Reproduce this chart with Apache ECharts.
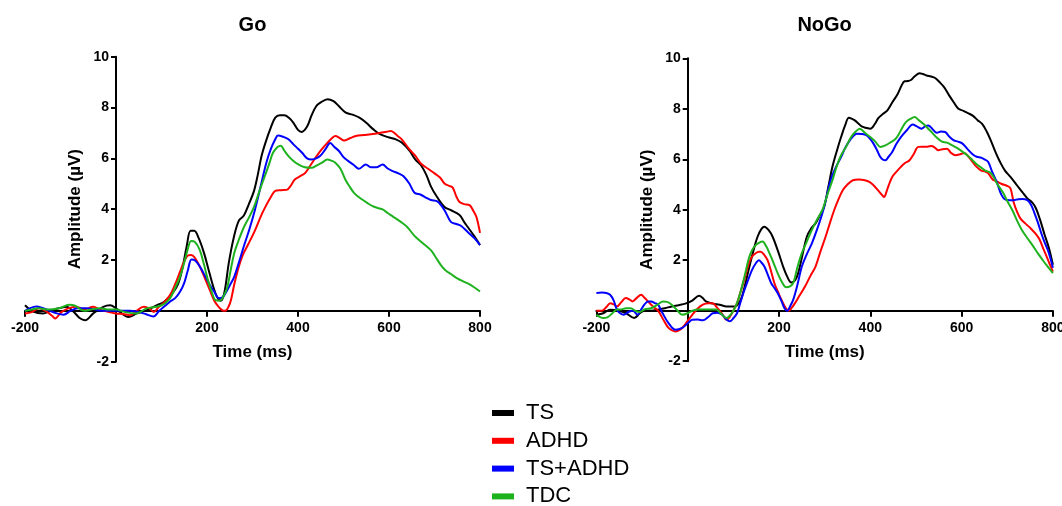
<!DOCTYPE html>
<html>
<head>
<meta charset="utf-8">
<script src="https://cdn.jsdelivr.net/npm/echarts@6/dist/echarts.min.js"></script>
<style>
html,body{margin:0;padding:0;background:#fff;}
#chart{width:1062px;height:506px;}
</style>
</head>
<body>
<div id="chart"></div>
<script>
// ---- data: [time (ms), amplitude (µV)] ----
var seriesNames = ['TS', 'ADHD', 'TS+ADHD', 'TDC'];
var panelTitles = ['Go', 'NoGo'];
var xTicks = [-200, 0, 200, 400, 600, 800];
var yTicks = [-2, 0, 2, 4, 6, 8, 10];

var goTS = [[-200,0.22],[-182,-0.03],[-160,-0.1],[-138,0.05],[-120,0.12],[-109,0.16],[-95,0.0],[-80,-0.28],[-68,-0.37],[-50,-0.1],[-28,0.16],[-13,0.22],[0,0.1],[9,-0.05],[27,-0.24],[46,-0.1],[68,0.03],[90,0.22],[105,0.35],[120,0.6],[135,1.0],[145,1.6],[155,2.5],[164,3.15],[172,3.15],[182,2.85],[193,2.3],[203,1.65],[213,1.0],[222,0.55],[230,0.4],[238,0.7],[248,1.9],[259,2.9],[270,3.55],[281,3.75],[292,4.2],[303,4.7],[311,5.3],[320,6.1],[330,6.7],[340,7.2],[350,7.6],[360,7.7],[370,7.7],[380,7.6],[390,7.4],[400,7.12],[408,7.04],[420,7.25],[430,7.7],[440,8.05],[450,8.2],[465,8.33],[478,8.25],[490,8.05],[505,7.8],[520,7.72],[535,7.6],[550,7.4],[565,7.15],[580,6.95],[600,6.82],[615,6.75],[628,6.62],[645,6.3],[658,5.95],[670,5.74],[682,5.35],[692,4.9],[705,4.5],[722,4.09],[736,3.96],[755,3.77],[765,3.5],[773,3.3],[787,2.95],[800,2.59]];
var goADHD = [[-200,-0.1],[-185,-0.05],[-170,0.1],[-155,0.0],[-140,-0.2],[-134,-0.3],[-120,-0.05],[-105,0.1],[-87,0.16],[-70,0.05],[-50,0.16],[-35,0.05],[-15,-0.05],[0,-0.1],[15,-0.12],[31,-0.17],[45,0.0],[61,0.16],[73,0.1],[83,-0.04],[94,0.15],[104,0.3],[119,0.63],[130,1.05],[141,1.55],[150,1.95],[158,2.18],[165,2.2],[173,2.1],[184,1.75],[195,1.3],[206,0.83],[216,0.4],[226,0.15],[234,0.02],[240,0.0],[247,0.15],[253,0.45],[260,1.05],[270,1.75],[280,2.25],[290,2.6],[305,3.15],[319,3.75],[330,4.15],[341,4.5],[350,4.72],[362,4.75],[375,4.76],[385,4.95],[393,5.17],[405,5.3],[416,5.43],[430,5.8],[441,6.09],[452,6.35],[464,6.6],[475,6.8],[482,6.88],[492,6.8],[501,6.7],[515,6.8],[527,6.88],[545,6.92],[560,6.95],[579,7.0],[595,7.05],[604,7.08],[612,7.0],[619,6.88],[628,6.75],[645,6.35],[658,6.1],[670,5.8],[685,5.6],[700,5.41],[712,5.25],[722,5.01],[732,4.92],[740,4.85],[748,4.5],[755,4.28],[765,4.2],[777,4.16],[785,3.95],[792,3.7],[800,3.07]];
var goTSADHD = [[-200,0.0],[-190,0.1],[-175,0.17],[-160,0.1],[-145,0.0],[-130,-0.1],[-115,-0.15],[-100,0.0],[-85,0.1],[-65,0.1],[-45,0.05],[-30,0.0],[0,0.0],[30,0.0],[50,-0.05],[65,-0.12],[82,-0.22],[95,0.0],[108,0.2],[119,0.37],[130,0.5],[141,0.76],[150,1.1],[158,1.6],[166,2.02],[174,1.98],[184,1.75],[195,1.4],[206,1.03],[216,0.75],[226,0.5],[233,0.52],[241,0.7],[250,1.0],[260,1.35],[270,1.9],[282,2.6],[293,3.2],[305,3.95],[318,4.9],[330,5.8],[340,6.35],[350,6.75],[356,6.9],[367,6.85],[379,6.75],[390,6.55],[400,6.38],[410,6.2],[420,6.0],[430,5.96],[440,6.0],[449,6.1],[460,6.35],[471,6.6],[480,6.45],[490,6.29],[500,6.05],[510,5.9],[522,5.75],[534,5.59],[549,5.76],[560,5.65],[572,5.65],[586,5.76],[597,5.6],[608,5.5],[622,5.4],[632,5.3],[645,5.0],[656,4.65],[670,4.57],[682,4.45],[692,4.36],[707,4.3],[722,3.96],[736,3.5],[748,3.42],[758,3.35],[773,3.1],[788,2.85],[800,2.59]];
var goTDC = [[-200,0.0],[-185,0.05],[-170,0.1],[-150,0.05],[-125,0.1],[-103,0.24],[-90,0.2],[-70,0.0],[-55,0.05],[-35,0.1],[-15,0.05],[0,0.05],[20,-0.05],[45,-0.1],[67,0.1],[85,0.15],[97,0.2],[108,0.3],[119,0.5],[130,0.9],[141,1.36],[150,1.9],[158,2.45],[165,2.75],[173,2.72],[184,2.4],[193,1.85],[202,1.22],[211,0.72],[219,0.42],[228,0.4],[237,0.6],[245,0.96],[252,1.6],[260,2.28],[270,2.8],[282,3.33],[293,3.7],[304,4.12],[315,4.7],[327,5.3],[337,5.8],[345,6.22],[355,6.45],[362,6.5],[370,6.3],[379,6.09],[390,5.9],[401,5.76],[415,5.65],[430,5.63],[441,5.72],[453,5.83],[464,5.96],[475,5.9],[482,5.83],[493,5.6],[504,5.17],[513,4.9],[523,4.64],[532,4.5],[541,4.38],[552,4.25],[564,4.12],[575,4.05],[586,3.99],[597,3.85],[608,3.72],[626,3.5],[640,3.3],[656,2.95],[672,2.7],[692,2.39],[703,2.1],[714,1.8],[724,1.6],[736,1.45],[751,1.27],[762,1.17],[773,1.08],[787,0.93],[800,0.76]];

var nogoTS = [[-200,-0.16],[-185,-0.1],[-170,0.04],[-150,0.0],[-135,-0.1],[-117,-0.29],[-105,-0.1],[-95,0.0],[-80,0.0],[-65,0.04],[-50,0.1],[-35,0.17],[-20,0.22],[-5,0.28],[10,0.4],[25,0.59],[33,0.5],[40,0.37],[55,0.28],[70,0.24],[85,0.17],[104,0.17],[112,0.3],[119,0.57],[128,1.2],[137,1.88],[145,2.45],[153,2.93],[162,3.25],[168,3.33],[177,3.2],[186,2.93],[198,2.35],[209,1.75],[218,1.35],[227,1.12],[235,1.2],[242,1.49],[250,2.1],[261,2.93],[270,3.25],[280,3.46],[290,3.8],[299,4.12],[308,4.9],[317,5.7],[327,6.35],[336,6.88],[345,7.35],[353,7.64],[360,7.6],[366,7.54],[375,7.4],[381,7.3],[390,7.25],[400,7.21],[410,7.4],[418,7.64],[428,7.8],[437,7.93],[448,8.25],[460,8.59],[468,8.9],[475,9.09],[482,9.1],[489,9.14],[498,9.3],[508,9.41],[515,9.38],[523,9.32],[533,9.28],[542,9.22],[552,9.05],[562,8.85],[572,8.55],[583,8.25],[593,8.0],[604,7.92],[615,7.82],[625,7.72],[635,7.55],[645,7.4],[655,7.1],[665,6.7],[675,6.25],[684,5.9],[695,5.55],[707,5.3],[720,5.0],[733,4.7],[744,4.45],[755,4.28],[763,4.05],[772,3.6],[782,3.0],[791,2.5],[800,1.82]];
var nogoADHD = [[-200,0.0],[-188,0.0],[-178,0.15],[-170,0.3],[-162,0.25],[-155,0.17],[-145,0.35],[-136,0.5],[-128,0.45],[-121,0.37],[-112,0.5],[-102,0.63],[-94,0.5],[-87,0.37],[-75,0.15],[-65,0.0],[-52,-0.4],[-42,-0.68],[-27,-0.82],[-12,-0.68],[0,-0.4],[10,-0.16],[20,0.05],[33,0.24],[45,0.3],[55,0.3],[63,0.15],[70,0.0],[78,-0.2],[85,-0.36],[92,-0.25],[100,0.0],[108,0.3],[115,0.7],[125,1.3],[134,1.88],[141,2.15],[149,2.28],[156,2.34],[160,2.34],[168,2.2],[175,2.0],[182,1.6],[190,1.09],[200,0.65],[209,0.3],[215,0.1],[221,0.0],[228,0.12],[235,0.3],[245,0.6],[257,0.96],[268,1.35],[280,1.75],[290,2.3],[302,2.93],[312,3.5],[321,3.99],[330,4.4],[340,4.78],[350,5.0],[362,5.17],[375,5.2],[388,5.17],[398,5.1],[407,4.97],[418,4.75],[425,4.6],[430,4.51],[437,4.8],[442,5.05],[448,5.3],[457,5.5],[467,5.7],[476,5.85],[486,5.96],[495,6.2],[505,6.49],[515,6.5],[525,6.5],[534,6.53],[542,6.45],[549,6.36],[558,6.4],[568,6.42],[577,6.25],[587,6.16],[597,6.2],[606,6.25],[615,6.1],[624,5.9],[633,5.7],[643,5.55],[650,5.52],[658,5.45],[668,5.2],[677,5.12],[688,5.02],[699,4.95],[707,4.85],[714,4.3],[722,3.9],[729,3.65],[740,3.45],[752,3.25],[762,3.05],[770,2.85],[778,2.5],[785,2.2],[793,1.85],[800,1.55]];
var nogoTSADHD = [[-200,0.7],[-188,0.72],[-178,0.7],[-170,0.63],[-162,0.4],[-155,0.04],[-148,-0.1],[-140,-0.16],[-130,-0.05],[-120,0.0],[-110,-0.16],[-102,0.05],[-95,0.24],[-87,0.37],[-80,0.37],[-72,0.3],[-65,0.24],[-55,-0.1],[-42,-0.49],[-27,-0.75],[-12,-0.68],[0,-0.5],[10,-0.36],[22,-0.35],[33,-0.38],[45,-0.25],[55,-0.1],[65,-0.08],[75,-0.15],[85,-0.35],[92,-0.42],[100,-0.3],[108,-0.1],[115,0.3],[122,0.7],[132,1.2],[141,1.62],[150,1.9],[156,2.0],[162,1.9],[168,1.75],[176,1.4],[183,1.09],[190,0.9],[197,0.7],[205,0.4],[212,0.1],[218,0.0],[225,0.2],[231,0.43],[240,1.0],[250,1.75],[260,2.2],[272,2.67],[283,3.2],[295,3.86],[304,4.5],[313,5.17],[325,5.7],[336,6.09],[345,6.45],[355,6.75],[362,6.9],[370,7.01],[382,7.0],[392,6.95],[400,6.8],[407,6.62],[415,6.35],[422,6.09],[428,5.98],[433,5.96],[440,6.1],[448,6.29],[457,6.6],[467,6.88],[480,7.15],[493,7.38],[502,7.3],[512,7.21],[520,7.3],[527,7.34],[536,7.2],[546,7.05],[555,7.1],[564,7.08],[573,6.9],[583,6.75],[592,6.7],[602,6.62],[613,6.4],[624,6.2],[633,6.1],[643,6.06],[650,6.0],[658,5.9],[667,5.5],[677,5.1],[687,4.6],[696,4.4],[705,4.38],[714,4.38],[724,4.42],[733,4.43],[744,4.38],[752,4.2],[759,3.9],[767,3.5],[774,3.1],[781,2.75],[789,2.4],[795,2.05],[800,1.7]];
var nogoTDC = [[-200,-0.16],[-192,-0.25],[-185,-0.29],[-175,-0.25],[-165,-0.1],[-155,0.05],[-147,0.05],[-135,0.1],[-125,0.1],[-115,0.0],[-105,-0.05],[-95,0.05],[-80,0.1],[-65,0.25],[-54,0.37],[-45,0.35],[-35,0.24],[-22,0.0],[-12,-0.16],[0,-0.1],[10,0.0],[25,0.05],[40,0.05],[55,0.05],[63,0.05],[72,-0.1],[85,-0.29],[92,-0.2],[100,0.0],[108,0.3],[115,0.7],[125,1.4],[134,2.08],[141,2.4],[149,2.6],[157,2.7],[164,2.74],[172,2.55],[179,2.28],[188,1.9],[197,1.49],[206,1.15],[216,0.93],[223,0.95],[231,1.09],[240,1.7],[250,2.28],[260,2.7],[272,3.2],[283,3.6],[295,3.99],[306,4.6],[317,5.17],[326,5.7],[336,6.16],[347,6.5],[358,6.88],[368,7.1],[377,7.21],[388,7.05],[400,6.88],[411,6.7],[422,6.49],[433,6.55],[445,6.68],[455,6.8],[463,7.01],[470,7.25],[478,7.47],[488,7.6],[497,7.67],[506,7.55],[516,7.41],[525,7.25],[534,7.08],[546,6.85],[557,6.7],[568,6.66],[580,6.55],[590,6.45],[602,6.3],[613,6.15],[624,5.96],[633,5.8],[643,5.67],[652,5.55],[662,5.48],[670,5.3],[677,5.05],[690,4.7],[700,4.35],[712,3.95],[722,3.55],[732,3.2],[745,2.85],[755,2.6],[768,2.25],[780,1.95],[790,1.72],[800,1.49]];

var goData = [goTS, goADHD, goTSADHD, goTDC];
var nogoData = [nogoTS, nogoADHD, nogoTSADHD, nogoTDC];
var colors = ['#000000', '#ff0000', '#0000ff', '#1fb21f'];

var FONT = "'Liberation Sans', Arial, sans-serif";
var chart = echarts.init(document.getElementById('chart'), null, {renderer: 'canvas'});

var grids = [
  {left: 25, top: 56.7, width: 455, height: 305},
  {left: 596.4, top: 58.3, width: 456.5, height: 302.9}
];
var titleX = [252.5, 824.6];
var xMin = xTicks[0], xMax = xTicks[xTicks.length - 1];
var yMin = yTicks[0], yMax = yTicks[yTicks.length - 1];

function xAxisCfg(i) {
  var g = grids[i];
  // move the axis (line, ticks, labels, name) up to the y = 0 level
  var off = -g.height * (0 - yMin) / (yMax - yMin);
  return {
    type: 'value', gridIndex: i, position: 'bottom', offset: off,
    min: xMin, max: xMax, interval: xTicks[1] - xTicks[0],
    name: 'Time (ms)', nameLocation: 'middle', nameGap: 33,
    nameTextStyle: {fontFamily: FONT, fontWeight: 'bold', fontSize: 17, color: '#000'},
    axisLine: {show: true, onZero: false, lineStyle: {color: '#000', width: 2}},
    axisTick: {show: true, length: 6, lineStyle: {color: '#000', width: 2}},
    axisLabel: {margin: 10, fontFamily: FONT, fontWeight: 'bold', fontSize: 14, color: '#000',
      formatter: function (v) { return v === 0 ? '' : String(v); }},
    splitLine: {show: false}
  };
}
function yAxisCfg(i) {
  var g = grids[i];
  // move the axis right to the x = 0 position
  var off = -g.width * (0 - xMin) / (xMax - xMin);
  return {
    type: 'value', gridIndex: i, position: 'left', offset: off,
    min: yMin, max: yMax, interval: yTicks[1] - yTicks[0],
    name: 'Amplitude (µV)', nameLocation: 'middle', nameGap: 32,
    nameTextStyle: {fontFamily: FONT, fontWeight: 'bold', fontSize: 17, color: '#000'},
    axisLine: {show: true, onZero: false, lineStyle: {color: '#000', width: 2}},
    axisTick: {show: true, length: 5, lineStyle: {color: '#000', width: 2}},
    axisLabel: {margin: 7, fontFamily: FONT, fontWeight: 'bold', fontSize: 14, color: '#000',
      formatter: function (v) { return v === 0 ? '' : String(v); }},
    splitLine: {show: false}
  };
}

var series = [];
[goData, nogoData].forEach(function (panel, p) {
  panel.forEach(function (d, k) {
    series.push({
      name: seriesNames[k], type: 'line', xAxisIndex: p, yAxisIndex: p,
      data: d, showSymbol: false, symbol: 'none', smooth: 0.35,
      color: colors[k],
      lineStyle: {color: colors[k], width: 2},
      itemStyle: {color: colors[k]},
      clip: false,
      z: 2 + k
    });
  });
});

chart.setOption({
  animation: false,
  backgroundColor: '#ffffff',
  title: panelTitles.map(function (t, i) {
    return {text: t, left: titleX[i], top: 14, textAlign: 'center', padding: 0,
      textStyle: {fontFamily: FONT, fontWeight: 'bold', fontSize: 20, color: '#000', lineHeight: 22}};
  }),
  grid: grids.map(function (g) {
    return Object.assign({containLabel: false, outerBoundsMode: 'none'}, g);
  }),
  xAxis: [xAxisCfg(0), xAxisCfg(1)],
  yAxis: [yAxisCfg(0), yAxisCfg(1)],
  legend: {
    data: seriesNames, orient: 'vertical', left: 492, top: 402, height: 130, padding: 0,
    icon: 'rect', itemWidth: 22, itemHeight: 6, itemGap: 5.8,
    textStyle: {fontFamily: FONT, fontSize: 22, color: '#000', padding: [0, 0, 0, 7]},
    selectedMode: false
  },
  series: series
});
</script>
</body>
</html>
